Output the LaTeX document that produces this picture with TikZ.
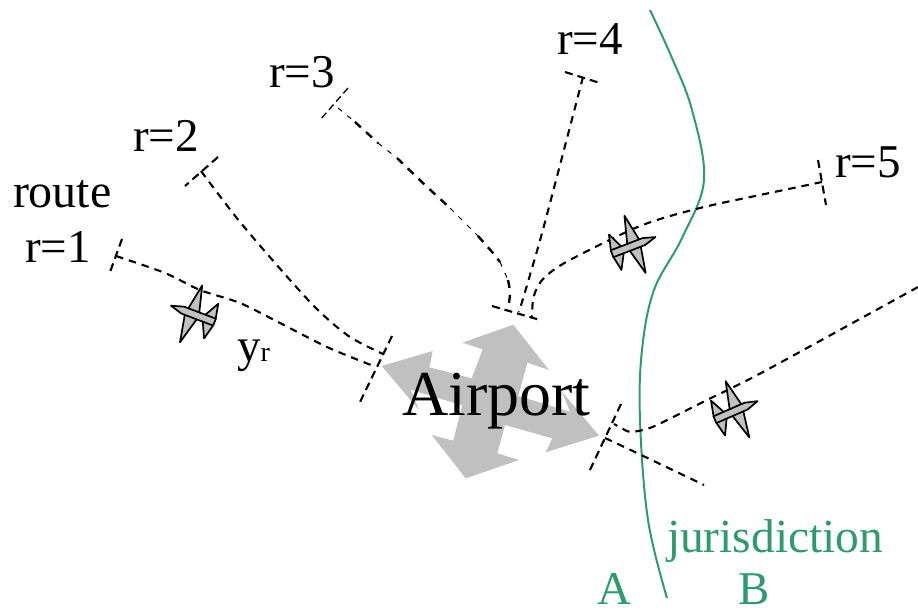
\documentclass[tikz,border=0pt]{standalone}
\usepackage{fontspec}
\setmainfont{Liberation Serif}
\definecolor{jgreen}{RGB}{46,155,110}
\definecolor{agray}{RGB}{192,192,192}
\tikzset{
  route/.style={draw=black,line width=2.1pt,dash pattern=on 7.5pt off 6pt},
  thinroute/.style={draw=black,line width=1pt,dash pattern=on 5pt off 7pt},
  boldroute/.style={draw=black,line width=2.4pt,dash pattern=on 8pt off 7pt},
  bar/.style={draw=black,line width=2.1pt,dash pattern=on 8pt off 5pt},
  border/.style={draw=jgreen,line width=2pt},
  lab/.style={font=\fontsize{47}{47}\selectfont,anchor=base west,inner sep=0pt,outer sep=0pt},
  glab/.style={lab,text=jgreen},
  planepart/.style={draw=black,fill=agray,line width=1.7pt,line join=round}
}
\newcommand{\plane}[3]{%
  \begin{scope}[shift={(#1,#2)},rotate=#3]
    \path[planepart] (-23,3) -- (-20,18.5) -- (-11.5,3) -- cycle;
    \path[planepart] (-23,-3) -- (-19,-19) -- (-11.5,-3) -- cycle;
    \path[planepart] (-5.5,3) -- (1.5,30) -- (6.5,3) -- cycle;
    \path[planepart] (-5.5,-3) -- (2.2,-31) -- (7.5,-3) -- cycle;
    \path[planepart] (23.5,0) -- (11,3.7) -- (-23,3.7) -- (-23,-3.7) -- (11,-3.7) -- cycle;
  \end{scope}}
\begin{document}
\begin{tikzpicture}[x=1pt,y=-1pt]
\useasboundingbox (0,0) rectangle (918,614);
% airport arrows
\path[fill=agray] (381.7,366) -- (432.7,351) -- (429.3,367.3) -- (471.7,378.3) -- (482.7,349.3) -- (462.3,342.7) -- (513.3,324.7) -- (549,370) -- (527.3,362.7) -- (518.3,396) -- (570,411.7) -- (561.7,391.3) -- (599,435.7) -- (545.7,452.3) -- (552.3,438.3) -- (505,425) -- (497.3,453.3) -- (519,460) -- (465.7,478.3) -- (431.7,435) -- (453.3,440.7) -- (462.3,405.3) -- (410.7,389.7) -- (419,410) -- cycle;
% border
\draw[border] plot[smooth,tension=0.6] coordinates {(650,10) (672,58) (692,110) (704,180) (682,238) (654,290) (642,350) (640,420) (648,520) (667,598)};
% route ends
\coordinate (r1s) at (116,256);
\coordinate (r1e) at (371,365);
\coordinate (r2s) at (201,171);
\coordinate (r2e) at (383,354);
\coordinate (r3s) at (338,108);
\coordinate (r3e) at (508,310);
\coordinate (r4s) at (583,77);
\coordinate (r4e) at (519,312);
\coordinate (r5s) at (822,182);
\coordinate (r5e) at (532,317);
\coordinate (r6s) at (918,287);
\coordinate (r6e) at (614,424);
\coordinate (r7s) at (605,438);
\coordinate (r7e) at (704,485);
% routes
\draw[route] plot[smooth,tension=0.5] coordinates {(r1s) (165,273) (200,290) (240,303) (280,323) (327,347) (r1e)};
\draw[route] plot[smooth,tension=0.5] coordinates {(r2s) (240,222) (290,280) (320,312) (350,337) (r2e)};
\draw[thinroute] (r3s) -- (355,122);
\draw[boldroute] (355,122) -- (378,143);
\draw[thinroute] (378,143) -- (397,158);
\draw[boldroute] (397,158) -- (425,185) -- (450,208);
\draw[thinroute] (450,208) -- (478,236);
\draw[boldroute] (478,236) -- (493,253) -- (500,262);
\draw[thinroute] (500,262) -- (508,280);
\draw[boldroute] plot[smooth,tension=0.5] coordinates {(508,280) (510,293) (r3e)};
\draw[route] plot[smooth,tension=0.5] coordinates {(r4s) (545,222) (530,275) (r4e)};
\draw[route] plot[smooth,tension=0.5] coordinates {(r5s) (760,195) (700,208) (640,226) (568,261) (545,277) (537,288) (533,300) (r5e)};
\draw[route] plot[smooth,tension=0.4] coordinates {(r6s) (763,372) (707,400) (657,425) (643,430) (630,432) (623,429) (r6e)};
\draw[route] plot[smooth,tension=0.5] coordinates {(r7s) (637,453) (r7e)};
% bars
\draw[bar] (122,239) -- (110,272);
\draw[bar] (218,157) -- (185,186);
\draw[thinroute,line width=1.3pt,dash pattern=on 7pt off 4pt] (348,88) -- (320,120);
\draw[bar] (565,72) -- (600,83);
\draw[bar] (818,160) -- (826,205);
\draw[bar] (392,336) -- (360,402);
\draw[bar] (492,306) -- (540,320);
\draw[bar] (621,404) -- (589,472);
% planes
\plane{193}{314}{159.3}
\plane{633.5}{245.5}{21}
\plane{736}{410.5}{23.5}
% labels
\node[lab] (l5) at (835,177) {r=5};
\node[lab] (l4) at (557,54) {r=4};
\node[lab] (l3) at (269,87) {r=3};
\node[lab] (l2) at (133,151) {r=2};
\node[lab,font=\fontsize{48}{48}\selectfont] (lr) at (13,207) {route};
\node[lab] (l1) at (25,262) {r=1};
\node[lab] (ly) at (237,361) {y\raisebox{0pt}{\fontsize{28}{28}\selectfont r}};
\node[lab,font=\fontsize{64}{64}\selectfont] (ap) at (402,415) {Airport};
\node[glab,font=\fontsize{47.5}{47.5}\selectfont] (jur) at (667,552) {jurisdiction};
\node[glab] (la) at (597,604) {A};
\node[glab] (lb) at (738,604) {B};
\end{tikzpicture}
\end{document}
